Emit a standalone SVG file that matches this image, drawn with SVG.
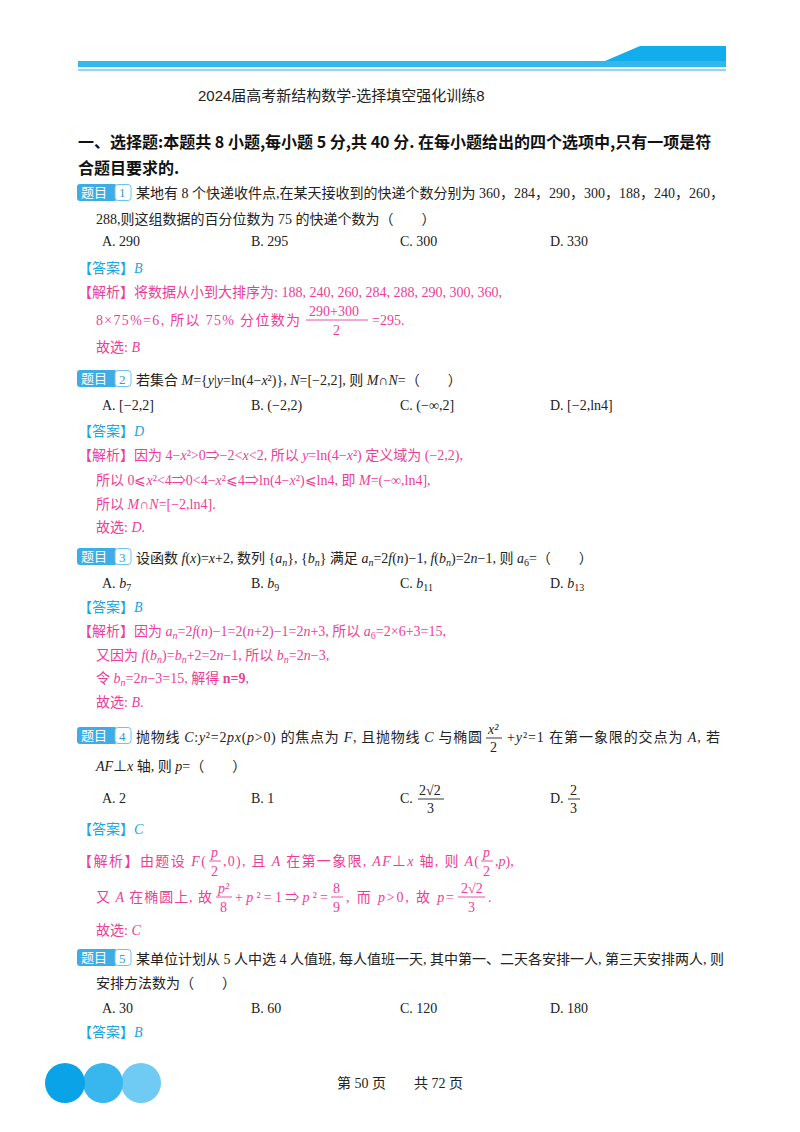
<svg xmlns="http://www.w3.org/2000/svg" width="800" height="1132" viewBox="0 0 800 1132">
<style>
text{font-family:"Liberation Serif","Noto Sans CJK SC",serif;font-size:14px;fill:#222}
.t{font-family:"Liberation Sans","Noto Sans CJK SC",sans-serif;font-size:15px}
.h{font-family:"Noto Sans CJK SC",sans-serif;font-weight:bold;font-size:16px;fill:#111}
.ans{fill:#1aa6e0}
.jx{fill:#ea3f95}
.i{font-style:italic}
.bw{fill:#fff;font-family:"Noto Sans CJK SC",sans-serif;font-size:13px}
.bn{fill:#2a9fd8;font-size:13px}
.fr{stroke-width:0.9}
</style>
<rect width="800" height="1132" fill="#fff"/>
<g id="header">
<rect x="78" y="61" width="648" height="6" fill="#33b8ee"/>
<polygon points="605,61 640,46 726,46 726,61" fill="#12aeec"/>
<rect x="78" y="69" width="648" height="2" fill="#8dd6f4"/>
<text x="198" y="101" class="t">2024届高考新结构数学-选择填空强化训练8</text>
<text x="78" y="148" class="h">一、选择题:本题共 8 小题,每小题 5 分,共 40 分. 在每小题给出的四个选项中,只有一项是符</text>
<text x="78" y="174" class="h">合题目要求的.</text>
</g>
<defs>
<g id="badge">
<rect x="0" y="0" width="40" height="17" rx="3" fill="#40ace6"/>
<rect x="38" y="0.5" width="16" height="16" rx="3" fill="#fff" stroke="#6cc4ef"/>
<text x="4" y="13" class="bw">题目</text>
</g>
</defs>
<g id="q1">
<use href="#badge" x="77" y="184"/><text x="119" y="197" class="bn">1</text>
<text x="136" y="198">某地有 8 个快递收件点,在某天接收到的快递个数分别为 360，284，290，300，188，240，260，</text>
<text x="96" y="224">288,则这组数据的百分位数为 75 的快递个数为（　　）</text>
<text x="102" y="246">A. 290</text><text x="251" y="246">B. 295</text><text x="400" y="246">C. 300</text><text x="550" y="246">D. 330</text>
<text x="78" y="273" class="ans">【答案】<tspan class="i">B</tspan></text>
<text x="78" y="297" class="jx">【解析】将数据从小到大排序为: 188, 240, 260, 284, 288, 290, 300, 360,</text>
<text x="96" y="325" class="jx" textLength="204" lengthAdjust="spacing">8×75%=6, 所以 75% 分位数为</text>
<text x="309" y="316" class="jx">290+300</text><line x1="306" y1="320" x2="368" y2="320" stroke="#ea3f95" class="fr"/><text x="333" y="335" class="jx">2</text>
<text x="372" y="325" class="jx">=295.</text>
<text x="96" y="352" class="jx">故选: <tspan class="i">B</tspan></text>
</g>
<g id="q2">
<use href="#badge" x="77" y="370"/><text x="119" y="384" class="bn">2</text>
<text x="136" y="385">若集合 <tspan class="i">M</tspan>={<tspan class="i">y</tspan>|<tspan class="i">y</tspan>=ln(4−<tspan class="i">x</tspan>²)}, <tspan class="i">N</tspan>=[−2,2], 则 <tspan class="i">M</tspan>∩<tspan class="i">N</tspan>=（　　）</text>
<text x="102" y="410">A. [−2,2]</text><text x="251" y="410">B. (−2,2)</text><text x="400" y="410">C. (−∞,2]</text><text x="550" y="410">D. [−2,ln4]</text>
<text x="78" y="436" class="ans">【答案】<tspan class="i">D</tspan></text>
<text x="78" y="460" class="jx">【解析】因为 4−<tspan class="i">x</tspan>²&gt;0⇒−2&lt;<tspan class="i">x</tspan>&lt;2, 所以 <tspan class="i">y</tspan>=ln(4−<tspan class="i">x</tspan>²) 定义域为 (−2,2),</text>
<text x="96" y="485" class="jx">所以 0⩽<tspan class="i">x</tspan>²&lt;4⇒0&lt;4−<tspan class="i">x</tspan>²⩽4⇒ln(4−<tspan class="i">x</tspan>²)⩽ln4, 即 <tspan class="i">M</tspan>=(−∞,ln4],</text>
<text x="96" y="509" class="jx">所以 <tspan class="i">M</tspan>∩<tspan class="i">N</tspan>=[−2,ln4].</text>
<text x="96" y="532" class="jx">故选: <tspan class="i">D</tspan>.</text>
</g>
<g id="q3">
<use href="#badge" x="77" y="548"/><text x="119" y="562" class="bn">3</text>
<text x="136" y="563">设函数 <tspan class="i">f</tspan>(<tspan class="i">x</tspan>)=<tspan class="i">x</tspan>+2, 数列 {<tspan class="i">a<tspan font-size="10" dy="3">n</tspan></tspan><tspan dy="-3">}, {</tspan><tspan class="i">b</tspan><tspan class="i" font-size="10" dy="3">n</tspan><tspan dy="-3">} 满足 </tspan><tspan class="i">a</tspan><tspan class="i" font-size="10" dy="3">n</tspan><tspan dy="-3">=2</tspan><tspan class="i">f</tspan>(<tspan class="i">n</tspan>)−1, <tspan class="i">f</tspan>(<tspan class="i">b</tspan><tspan class="i" font-size="10" dy="3">n</tspan><tspan dy="-3">)=2</tspan><tspan class="i">n</tspan>−1, 则 <tspan class="i">a</tspan><tspan font-size="10" dy="3">6</tspan><tspan dy="-3">=（　　）</tspan></text>
<text x="102" y="588">A. <tspan class="i">b</tspan><tspan font-size="10" dy="3">7</tspan></text><text x="251" y="588">B. <tspan class="i">b</tspan><tspan font-size="10" dy="3">9</tspan></text><text x="400" y="588">C. <tspan class="i">b</tspan><tspan font-size="10" dy="3">11</tspan></text><text x="550" y="588">D. <tspan class="i">b</tspan><tspan font-size="10" dy="3">13</tspan></text>
<text x="78" y="612" class="ans">【答案】<tspan class="i">B</tspan></text>
<text x="78" y="636" class="jx">【解析】因为 <tspan class="i">a</tspan><tspan class="i" font-size="10" dy="3">n</tspan><tspan dy="-3">=2</tspan><tspan class="i">f</tspan>(<tspan class="i">n</tspan>)−1=2(<tspan class="i">n</tspan>+2)−1=2<tspan class="i">n</tspan>+3, 所以 <tspan class="i">a</tspan><tspan font-size="10" dy="3">6</tspan><tspan dy="-3">=2×6+3=15,</tspan></text>
<text x="96" y="660" class="jx">又因为 <tspan class="i">f</tspan>(<tspan class="i">b</tspan><tspan class="i" font-size="10" dy="3">n</tspan><tspan dy="-3">)=</tspan><tspan class="i">b</tspan><tspan class="i" font-size="10" dy="3">n</tspan><tspan dy="-3">+2=2</tspan><tspan class="i">n</tspan>−1, 所以 <tspan class="i">b</tspan><tspan class="i" font-size="10" dy="3">n</tspan><tspan dy="-3">=2</tspan><tspan class="i">n</tspan>−3,</text>
<text x="96" y="683" class="jx">令 <tspan class="i">b</tspan><tspan class="i" font-size="10" dy="3">n</tspan><tspan dy="-3">=2</tspan><tspan class="i">n</tspan>−3=15, 解得 <tspan font-weight="bold">n=9</tspan>,</text>
<text x="96" y="707" class="jx">故选: <tspan class="i">B</tspan>.</text>
</g>
<g id="q4">
<use href="#badge" x="77" y="727"/><text x="119" y="741" class="bn">4</text>
<text x="136" y="742" textLength="346" lengthAdjust="spacing">抛物线 <tspan class="i">C</tspan>:<tspan class="i">y</tspan>²=2<tspan class="i">px</tspan>(<tspan class="i">p</tspan>&gt;0) 的焦点为 <tspan class="i">F</tspan>, 且抛物线 <tspan class="i">C</tspan> 与椭圆</text>
<text x="488" y="734" class="i">x²</text><line x1="486" y1="738" x2="502" y2="738" stroke="#222" class="fr"/><text x="490" y="752">2</text>
<text x="507" y="742" textLength="213" lengthAdjust="spacing">+<tspan class="i">y</tspan>²=1 在第一象限的交点为 <tspan class="i">A</tspan>, 若</text>
<text x="96" y="771"><tspan class="i">AF</tspan>⊥<tspan class="i">x</tspan> 轴, 则 <tspan class="i">p</tspan>=（　　）</text>
<text x="102" y="803">A. 2</text><text x="251" y="803">B. 1</text>
<text x="400" y="803">C.</text><text x="419" y="795">2√2</text><line x1="418" y1="799" x2="444" y2="799" stroke="#222" class="fr"/><text x="427" y="813">3</text>
<text x="550" y="803">D.</text><text x="570" y="795">2</text><line x1="568" y1="799" x2="580" y2="799" stroke="#222" class="fr"/><text x="570" y="813">3</text>
<text x="78" y="834" class="ans">【答案】<tspan class="i">C</tspan></text>
<text x="78" y="866" class="jx" textLength="128" lengthAdjust="spacing">【解析】由题设 <tspan class="i">F</tspan>(</text>
<text x="211" y="857" class="jx i">p</text><line x1="209" y1="861" x2="221" y2="861" stroke="#ea3f95" class="fr"/><text x="211" y="876" class="jx">2</text>
<text x="223" y="866" class="jx" textLength="256" lengthAdjust="spacing">,0), 且 <tspan class="i">A</tspan> 在第一象限, <tspan class="i">AF</tspan>⊥<tspan class="i">x</tspan> 轴, 则 <tspan class="i">A</tspan>(</text>
<text x="483" y="857" class="jx i">p</text><line x1="481" y1="861" x2="493" y2="861" stroke="#ea3f95" class="fr"/><text x="483" y="876" class="jx">2</text>
<text x="495" y="866" class="jx">,<tspan class="i">p</tspan>),</text>
<text x="96" y="902" class="jx" textLength="116" lengthAdjust="spacing">又 <tspan class="i">A</tspan> 在椭圆上, 故</text>
<text x="218" y="893" class="jx i">p²</text><line x1="216" y1="897" x2="232" y2="897" stroke="#ea3f95" class="fr"/><text x="220" y="912" class="jx">8</text>
<text x="235" y="902" class="jx" textLength="93" lengthAdjust="spacing">+<tspan class="i">p</tspan>²=1⇒<tspan class="i">p</tspan>²=</text>
<text x="333" y="893" class="jx">8</text><line x1="331" y1="897" x2="343" y2="897" stroke="#ea3f95" class="fr"/><text x="333" y="912" class="jx">9</text>
<text x="346" y="902" class="jx" textLength="108" lengthAdjust="spacing">, 而 <tspan class="i">p</tspan>&gt;0, 故 <tspan class="i">p</tspan>=</text>
<text x="461" y="893" class="jx">2√2</text><line x1="458" y1="897" x2="485" y2="897" stroke="#ea3f95" class="fr"/><text x="468" y="912" class="jx">3</text>
<text x="488" y="902" class="jx">.</text>
<text x="96" y="935" class="jx">故选: <tspan class="i">C</tspan></text>
</g>
<g id="q5">
<use href="#badge" x="77" y="949"/><text x="119" y="963" class="bn">5</text>
<text x="136" y="964">某单位计划从 5 人中选 4 人值班, 每人值班一天, 其中第一、二天各安排一人, 第三天安排两人, 则</text>
<text x="96" y="988">安排方法数为（　　）</text>
<text x="102" y="1013">A. 30</text><text x="251" y="1013">B. 60</text><text x="400" y="1013">C. 120</text><text x="550" y="1013">D. 180</text>
<text x="78" y="1037" class="ans">【答案】<tspan class="i">B</tspan></text>
</g>
<g id="footer">
<circle cx="141" cy="1083" r="20" fill="#6fcbf3"/>
<circle cx="103" cy="1083" r="20" fill="#38b6ee"/>
<circle cx="65" cy="1083" r="20" fill="#0ba3e8"/>
<text x="400" y="1088" text-anchor="middle" font-size="13">第 50 页　　共 72 页</text>
</g>
</svg>
